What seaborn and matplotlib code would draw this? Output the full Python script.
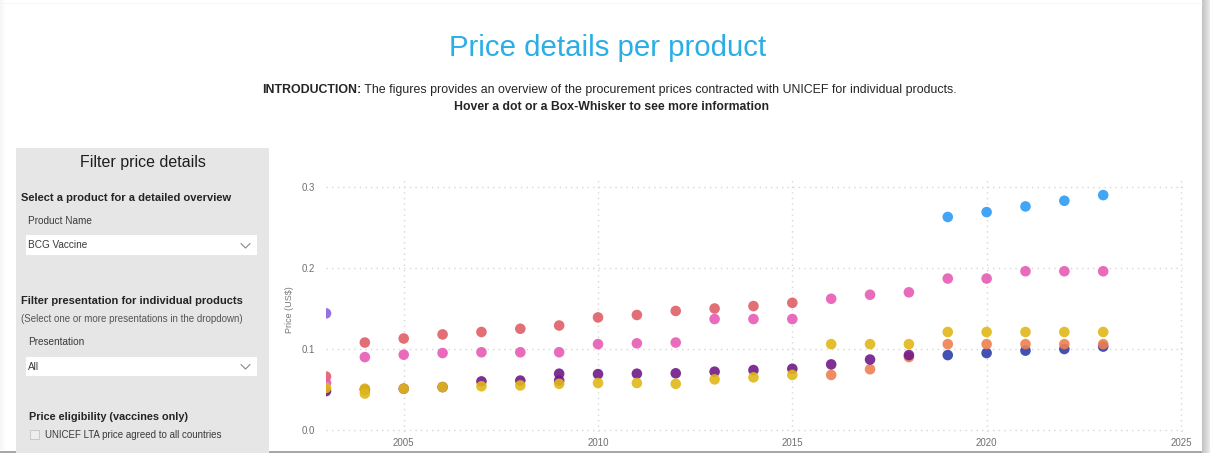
import numpy as np
import pandas as pd
import matplotlib
matplotlib.use("Agg")
import matplotlib.pyplot as plt
from matplotlib.patches import Rectangle
import seaborn as sns

# DATA
violet_years = [2003]
violet_price = [0.144]

navy_years = [2019, 2020, 2021, 2022, 2023]
navy_price = [0.0925, 0.095, 0.098, 0.100, 0.103]

orange_years = [2016, 2017, 2018, 2019, 2020, 2021, 2022, 2023]
orange_price = [0.068, 0.075, 0.090, 0.106, 0.106, 0.106, 0.106, 0.106]

purple_years = [2003, 2004, 2005, 2006, 2007, 2008, 2009, 2009, 2010, 2011, 2012,
                2013, 2014, 2015, 2016, 2017, 2018]
purple_price = [0.048, 0.050, 0.051, 0.053, 0.060, 0.061, 0.061, 0.0695, 0.069, 0.0695, 0.070,
                0.072, 0.074, 0.0756, 0.081, 0.087, 0.0925]

red_years = list(range(2003, 2016))
red_price = [0.066, 0.108, 0.113, 0.118, 0.121, 0.125, 0.129, 0.139, 0.142, 0.147,
             0.150, 0.153, 0.157]

pink_years = list(range(2003, 2024))
pink_price = [0.058, 0.090, 0.093, 0.095, 0.096, 0.096, 0.096, 0.106, 0.107, 0.108,
              0.137, 0.137, 0.137, 0.162, 0.167, 0.170, 0.187, 0.187, 0.196, 0.196, 0.196]

yellow_years = [2003, 2004, 2004, 2005, 2006, 2007, 2008, 2009, 2010, 2011, 2012, 2013,
                2014, 2015, 2016, 2017, 2018, 2019, 2020, 2021, 2022, 2023]
yellow_price = [0.052, 0.051, 0.045, 0.051, 0.053, 0.054, 0.055, 0.057, 0.058, 0.058, 0.057,
                0.0625, 0.065, 0.068, 0.106, 0.106, 0.106, 0.121, 0.121, 0.121, 0.121, 0.121]

blue_years = [2019, 2020, 2021, 2022, 2023]
blue_price = [0.263, 0.269, 0.276, 0.283, 0.290]

x_ticks = [2005, 2010, 2015, 2020, 2025]
y_ticks = [0.0, 0.1, 0.2, 0.3]
y_tick_labels = ["0.0", "0.1", "0.2", "0.3"]

colors = {
    "violet": "#8a62e0",
    "navy": "#2e3eaa",
    "orange": "#ee8050",
    "purple": "#701a88",
    "red": "#de5f66",
    "pink": "#e65cb4",
    "yellow": "#e0b818",
    "blue": "#2e9bf5",
}

# drawing order matters (later rows on top)
series = [
    ("violet", violet_years, violet_price),
    ("navy", navy_years, navy_price),
    ("orange", orange_years, orange_price),
    ("purple", purple_years, purple_price),
    ("red", red_years, red_price),
    ("pink", pink_years, pink_price),
    ("yellow", yellow_years, yellow_price),
    ("blue", blue_years, blue_price),
]
df = pd.concat([pd.DataFrame({"year": yrs, "price": vals, "presentation": name})
                for name, yrs, vals in series], ignore_index=True)

sns.set_theme(style="white")
plt.rcParams["font.family"] = ["Liberation Sans", "DejaVu Sans"]

W, H = 1210, 453
fig = plt.figure(figsize=(W / 100, H / 100), dpi=100)

# background / dashboard layer in pixel coords
bg = fig.add_axes([0, 0, 1, 1], zorder=0)
bg.set_xlim(0, W)
bg.set_ylim(H, 0)
bg.axis("off")

# page edges and shadow
for i in range(9):
    bg.add_patch(Rectangle((1202 + i, 0), 1, H, color="#888888", alpha=0.5 - i * 0.045, lw=0))
bg.add_patch(Rectangle((0, 450.5), 1202, 2.5, color="#a8a8a8", lw=0))
for i in range(5):
    bg.add_patch(Rectangle((i, 0), 1, 450, color="#dddddd", alpha=0.25 - i * 0.05, lw=0))
bg.plot([0, 1202], [2.5, 2.5], color="#f6f6f6", lw=0.6)

# title and intro
bg.text(608, 56, "Price details per product", ha="center", va="baseline",
        fontsize=21.2, color="#2aaee5")
bg.text(361, 93, "INTRODUCTION:", ha="right", va="baseline", fontsize=8.9,
        fontweight="bold", color="#252525")
bg.text(361, 93, " The figures provides an overview of the procurement prices contracted "
        "with UNICEF for individual products.", ha="left", va="baseline", fontsize=8.9,
        color="#252525")
bg.text(611, 110, "Hover a dot or a Box-Whisker to see more information", ha="center",
        va="baseline", fontsize=8.8, fontweight="bold", color="#252525")

# filter panel
bg.add_patch(Rectangle((16, 148), 253, 305, color="#e6e6e6", lw=0))
bg.text(142.5, 163, "Filter price details", ha="center", va="center", fontsize=11.5,
        color="#1e1e1e")
bg.text(21, 198, "Select a product for a detailed overview", va="center", fontsize=8,
        fontweight="bold", color="#252423")
bg.text(28, 221, "Product Name", va="center", fontsize=7.2, color="#3a3a3a")
bg.add_patch(Rectangle((26, 235), 231, 20, color="white", lw=0))
bg.text(28, 245.5, "BCG Vaccine", va="center", fontsize=7.2, color="#3a3a3a")
bg.text(21, 301.5, "Filter presentation for individual products", va="center", fontsize=8,
        fontweight="bold", color="#252423")
bg.text(21, 319, "(Select one or more presentations in the dropdown)", va="center",
        fontsize=7.05, color="#555555")
bg.text(28, 342, "Presentation", va="center", fontsize=7.2, color="#3a3a3a")
bg.add_patch(Rectangle((26, 357), 231, 19, color="white", lw=0))
bg.text(28, 366.5, "All", va="center", fontsize=7.2, color="#3a3a3a")
for cy in (245.5, 366.5):
    bg.plot([241, 245.5, 250], [cy - 2, cy + 2.5, cy - 2], color="#888888", lw=0.8)
bg.text(29, 417.5, "Price eligibility (vaccines only)", va="center", fontsize=7.8,
        fontweight="bold", color="#252423")
bg.add_patch(Rectangle((29.5, 430), 9, 9, facecolor="#eeeeee", edgecolor="#c8c8c8", lw=0.7))
bg.text(45, 435, "UNICEF LTA price agreed to all countries", va="center", fontsize=7.05,
        color="#3a3a3a")

# y label
bg.text(290, 310, "Price (US$)", rotation=90, ha="center", va="center", fontsize=6.5,
        color="#777777")

# scatter chart
ax = fig.add_axes([326 / W, (H - 432) / H, (1183 - 326) / W, (432 - 180) / H], zorder=1)
ax.set_facecolor("none")
sns.scatterplot(data=df, x="year", y="price", hue="presentation", palette=colors,
                hue_order=list(colors.keys()), s=58, linewidth=0, alpha=0.9,
                legend=False, ax=ax)
ax.set_xlim(2003, 2003 + 857 / 38.86)
ax.set_ylim(-2 / 810, 250 / 810)
ax.set_xticks(x_ticks)
ax.set_yticks(y_ticks)
ax.set_yticklabels(y_tick_labels)
ax.set_xlabel("")
ax.set_ylabel("")
for sp in ax.spines.values():
    sp.set_visible(False)
ax.grid(True, color="#d6d6d6", linestyle=(0, (1, 3)), linewidth=1.0)
ax.set_axisbelow(True)
ax.tick_params(length=0, labelsize=7, labelcolor="#707070")
ax.tick_params(axis="y", pad=8)
ax.tick_params(axis="x", pad=4)

fig.savefig("out.png", dpi=100)
